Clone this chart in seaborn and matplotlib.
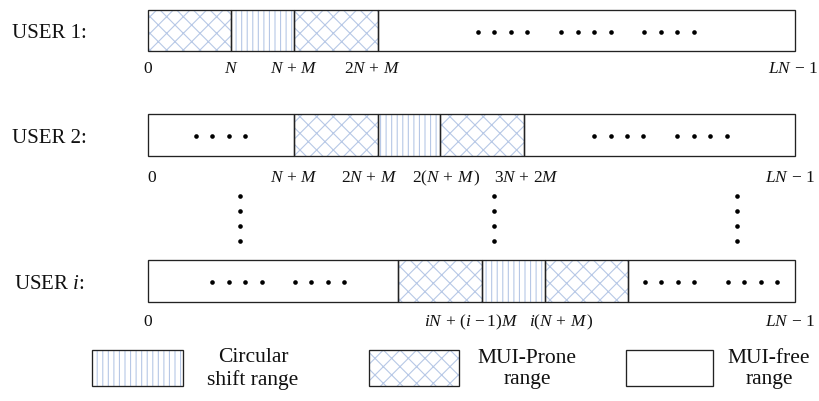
import numpy as np
import pandas as pd
import matplotlib
matplotlib.use("Agg")
import matplotlib.pyplot as plt
from matplotlib.patches import Rectangle
import seaborn as sns

# ---------------- data ----------------
users = ["USER 1:", "USER 2:", "USER $i$:"]

# segment boundaries in sample units (N = 4, M = 3, LN - 1 = 31)
row1_bounds = [0, 4, 7, 11, 31]
row1_kinds = ["prone", "shift", "prone", "free"]
row2_bounds = [0, 7, 11, 14, 18, 31]
row2_kinds = ["free", "prone", "shift", "prone", "free"]
rowi_bounds = [0, 12, 16, 19, 23, 31]
rowi_kinds = ["free", "prone", "shift", "prone", "free"]

# index labels under each row
row1_ticks = ["0", r"$N$", r"$N\,+\,M$", r"$2N\,+\,M$", r"$LN\,-\,1$"]
row1_tick_x = [0, 4, 7, 10.75, 30.9]
row2_ticks = ["0", r"$N\,+\,M$", r"$2N\,+\,M$", r"$2(N\,+\,M\,)$",
              r"$3N\,+\,2M$", r"$LN\,-\,1$"]
row2_tick_x = [0.2, 7, 10.6, 14.3, 18.15, 30.76]
rowi_ticks = ["0", r"$iN\,+\,(i\,-1)M$", r"$i(N\,+\,M\,)$", r"$LN\,-\,1$"]
rowi_tick_x = [0, 15.5, 19.8, 30.76]

# ellipsis dots inside the free ranges
row1_dots = [15.81, 16.60, 17.39, 18.18, 19.79, 20.58, 21.37, 22.16,
             23.77, 24.56, 25.35, 26.14]
row2_dots = [2.30, 3.09, 3.88, 4.67, 21.37, 22.16, 22.95, 23.74,
             25.35, 26.14, 26.93, 27.72]
rowi_dots = [3.07, 3.86, 4.65, 5.44, 7.04, 7.83, 8.62, 9.41,
             23.81, 24.60, 25.40, 26.18, 27.79, 28.58, 29.38, 30.16]
vdots_x = [4.41, 16.58, 28.22]

legend_labels = ["Circular\nshift range", "MUI-Prone\nrange", "MUI-free\nrange"]
legend_kinds = ["shift", "prone", "free"]

# ---------------- style ----------------
sns.set_theme(style="white")
plt.rcParams["font.family"] = ["Liberation Serif", "DejaVu Serif"]
plt.rcParams["mathtext.fontset"] = "custom"
plt.rcParams["mathtext.rm"] = "Liberation Serif"
plt.rcParams["mathtext.it"] = "Liberation Serif:italic"
plt.rcParams["hatch.linewidth"] = 0.8

HATCH_BLUE = "#b7c8e6"
BORDER = "#222222"
HATCHES = {"shift": "|||", "prone": "xx", "free": ""}

W, H = 820, 402
fig = plt.figure(figsize=(W / 100, H / 100), dpi=100)

# main axes: x in sample units, y in layout rows (top-down)
unit = 647 / 31.0
ax = fig.add_axes([0, 0, 1, 1])
ax.set_xlim(-148 / unit, (W - 148) / unit)
ax.set_ylim(H, 0)
ax.axis("off")

row_y = [31.5, 136, 282]
bar_h = 41.5
tick_base = [73, 182, 326]
user_base = [38.5, 143, 289]
user_x = [12, 12, 14]

rows = [(row1_bounds, row1_kinds, row1_ticks, row1_tick_x, row1_dots),
        (row2_bounds, row2_kinds, row2_ticks, row2_tick_x, row2_dots),
        (rowi_bounds, rowi_kinds, rowi_ticks, rowi_tick_x, rowi_dots)]

for r, (bounds, kinds, ticks, tx, dots) in enumerate(rows):
    starts = np.array(bounds[:-1], dtype=float)
    widths = np.diff(bounds).astype(float)
    for s0, w0, k in zip(starts, widths, kinds):
        ax.barh(row_y[r], w0, left=s0, height=bar_h, color="white",
                edgecolor=HATCH_BLUE, linewidth=0, hatch=HATCHES[k], zorder=1)
    ax.barh([row_y[r]] * len(starts), widths, left=starts, height=bar_h,
            fill=False, edgecolor=BORDER, linewidth=0.95, zorder=2)
    for t, x in zip(ticks, tx):
        ax.text(x, tick_base[r], t, ha="center", va="baseline", fontsize=12.5,
                color="#111111")
    dd = pd.DataFrame({"x": dots, "y": row_y[r] + 1})
    sns.scatterplot(data=dd, x="x", y="y", ax=ax, s=11, color="black",
                    linewidth=0, zorder=3, legend=False)

vd = pd.DataFrame({"x": np.repeat(vdots_x, 4),
                   "y": np.tile([197, 212, 227, 242], len(vdots_x))})
sns.scatterplot(data=vd, x="x", y="y", ax=ax, s=11, color="black",
                linewidth=0, zorder=3, legend=False)
ax.set_xlabel("")
ax.set_ylabel("")

# overlay axes in pixel layout for row titles and legend
lax = fig.add_axes([0, 0, 1, 1], facecolor="none")
lax.set_xlim(0, W)
lax.set_ylim(H, 0)
lax.axis("off")

for r, u in enumerate(users):
    lax.text(user_x[r], user_base[r], u, ha="left", va="baseline",
             fontsize=15, color="#111111")

box_x = [92, 369, 626]
box_w = [91, 90, 87]
text_cx = [253, 527, 769]
for bx, bw, tc, lab, k in zip(box_x, box_w, text_cx, legend_labels, legend_kinds):
    lax.add_patch(Rectangle((bx, 351), bw, 36, facecolor="white",
                            edgecolor=HATCH_BLUE, linewidth=0,
                            hatch=HATCHES[k], zorder=1))
    lax.add_patch(Rectangle((bx, 351), bw, 36, fill=False,
                            edgecolor=BORDER, linewidth=0.95, zorder=2))
    lax.text(tc, 369, lab, ha="center", va="center", multialignment="center",
             fontsize=15.5, linespacing=1.15, color="#111111")

fig.savefig("out.png", dpi=100, facecolor="white")
